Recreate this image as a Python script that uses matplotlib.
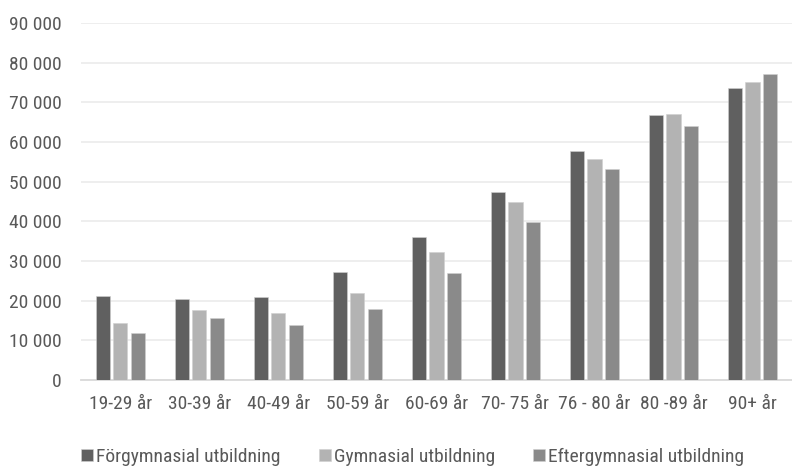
import matplotlib.pyplot as plt
import numpy as np
from matplotlib import font_manager

# Age groups and average values per education level
CATEGORIES = ["19-29 år", "30-39 år", "40-49 år", "50-59 år", "60-69 år",
              "70- 75 år", "76 - 80 år", "80 -89 år", "90+ år"]
SERIES = ["Förgymnasial utbildning", "Gymnasial utbildning", "Eftergymnasial utbildning"]
FORGYMNASIAL = [21100, 20350, 20850, 27300, 36050, 47300, 57800, 66700, 73700]
GYMNASIAL = [14300, 17550, 16900, 22000, 32200, 44900, 55700, 67050, 75000]
EFTERGYMNASIAL = [11850, 15550, 13800, 17800, 27050, 39850, 53100, 64100, 77150]
COLORS = ["#606060", "#b3b3b3", "#8a8a8a"]

# condensed font, first one that is installed
names = {f.name for f in font_manager.fontManager.ttflist}
candidates = ["Roboto Condensed", "Archivo Narrow", "PT Sans Narrow",
              "Asap Condensed", "Barlow Semi Condensed", "DejaVu Sans"]
family = next(f for f in candidates if f in names or f == "DejaVu Sans")
plt.rcParams["font.family"] = [family, "DejaVu Sans"]

fig = plt.figure(figsize=(7.92, 4.67), dpi=100)
ax = fig.add_axes([0.102, 0.186, 0.898, 0.765])

x = np.arange(len(CATEGORIES))
w = 0.18
for i, (vals, name) in enumerate(zip([FORGYMNASIAL, GYMNASIAL, EFTERGYMNASIAL], SERIES)):
    ax.bar(x + (i - 1) * 0.222, vals, width=w, color=COLORS[i], label=name,
           edgecolor="#d0d0d0", linewidth=0.4, zorder=3)

ax.set_xlim(-0.5, len(CATEGORIES) - 0.5)
ax.set_ylim(0, 90000)
ax.set_yticks(np.arange(0, 90001, 10000))
ax.set_yticklabels([f"{v:,}".replace(",", " ") for v in range(0, 90001, 10000)])
ax.set_xticks(x)
ax.set_xticklabels(CATEGORIES)
ax.grid(axis="y", color="#ebebeb", linewidth=1.2, zorder=0)
ax.tick_params(axis="both", length=0, labelsize=14, colors="#595959")
ax.tick_params(axis="x", pad=11)
ax.tick_params(axis="y", pad=14)
for s in ["top", "right", "left"]:
    ax.spines[s].set_visible(False)
ax.spines["bottom"].set_color("#d9d9d9")
ax.spines["bottom"].set_linewidth(1.3)

fig.legend(loc="center", bbox_to_anchor=(0.521, 0.022), ncol=3, frameon=False,
           fontsize=14, labelcolor="#595959", handlelength=0.62, handleheight=0.62,
           handletextpad=0.15, columnspacing=1.95)

fig.savefig("out.png", dpi=100)
